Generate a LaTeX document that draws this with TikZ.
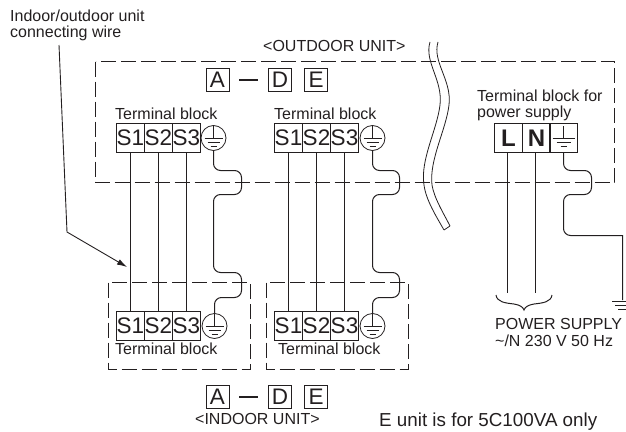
\documentclass[tikz,border=0pt]{standalone}
\usepackage{fontspec}
\setmainfont{Liberation Sans}
\usetikzlibrary{arrows.meta}
\definecolor{ink}{HTML}{231F20}
\tikzset{
  wire/.style={draw=ink,line width=1pt},
  thin wire/.style={draw=ink,line width=0.8pt},
  boxdash/.style={draw=ink,line width=1pt,dash pattern=on 15pt off 5pt},
  cell/.style={draw=ink,line width=0.8pt,minimum width=28pt,minimum height=29pt,inner sep=0pt,font=\fontsize{22.5}{22.5}\selectfont,text=ink},
  pcell/.style={cell,font=\fontsize{24}{24}\selectfont\bfseries},
  letterbox/.style={draw=ink,line width=0.8pt,minimum width=23pt,minimum height=23pt,inner sep=0pt,font=\fontsize{22.5}{22.5}\selectfont,text=ink},
  gcirc/.style={circle,draw=ink,line width=0.8pt,minimum size=25pt,inner sep=0pt},
  lbl/.style={anchor=west,inner sep=0pt,text=ink,font=\fontsize{16}{16}\selectfont},
  lead/.style={draw=ink,line width=0.9pt}
}
\newcommand{\earthsym}[1]{%
  \begin{scope}[shift={(#1.center)}]
    \draw[thin wire] (0,-12)--(0,0) (-9,0)--(9,0) (-6,4)--(6,4) (-3,8)--(3,8);
  \end{scope}}
\begin{document}
\begin{tikzpicture}[x=1pt,y=-1pt]
\useasboundingbox (0,0) rectangle (626,431);
% unit frames
\draw[boxdash] (95.5,61.5) rectangle (614.5,182.5);
\draw[boxdash] (108.5,282.5) rectangle (250.5,369.5);
\draw[boxdash] (266.5,282.5) rectangle (408.5,369.5);
% titles
\node[lbl] (title) at (10,16) {Indoor/outdoor unit};
\node[lbl] (title2) at (10,33) {connecting wire};
\node[lbl] (outdoor) at (263,46) {<OUTDOOR UNIT>};
\node[lbl] (indoor) at (195,419) {<INDOOR UNIT>};
% letters
\node[letterbox] (a1) at (217.5,80) {A};
\node[letterbox] (d1) at (280,80) {D};
\node[letterbox] (e1) at (316,80) {E};
\draw[wire,line width=1.3pt] (a1.east)++(10,0) -- ++(19,0);
\node[letterbox] (a2) at (217.5,397) {A};
\node[letterbox] (d2) at (280,397) {D};
\node[letterbox] (e2) at (316,397) {E};
\draw[wire,line width=1.3pt] (a2.east)++(10,0) -- ++(19,0);
% outdoor blocks
\node[lbl] (tb1) at (115,114) {Terminal block};
\node[cell] (oa1) at (130.5,138) {S1};
\node[cell] (oa2) at (158.5,138) {S2};
\node[cell] (oa3) at (186.5,138) {S3};
\node[gcirc] (oag) at (213.5,138) {};
\node[lbl] (tb2) at (274,114) {Terminal block};
\node[cell] (ob1) at (288.5,138) {S1};
\node[cell] (ob2) at (316.5,138) {S2};
\node[cell] (ob3) at (344.5,138) {S3};
\node[gcirc] (obg) at (372.5,138) {};
% indoor blocks
\node[cell] (ia1) at (130.5,326) {S1};
\node[cell] (ia2) at (158.5,326) {S2};
\node[cell] (ia3) at (186.5,326) {S3};
\node[gcirc] (iag) at (214.5,326) {};
\node[lbl] (tb3) at (115,349) {Terminal block};
\node[cell] (ib1) at (288.5,326) {S1};
\node[cell] (ib2) at (316.5,326) {S2};
\node[cell] (ib3) at (344.5,326) {S3};
\node[gcirc] (ibg) at (372.5,326) {};
\node[lbl] (tb4) at (278,349) {Terminal block};
\earthsym{oag}\earthsym{obg}\earthsym{iag}\earthsym{ibg}
% straight wires
\foreach \u/\v in {oa1/ia1,oa2/ia2,oa3/ia3,ob1/ib1,ob2/ib2,ob3/ib3}
  \draw[wire] (\u.south) -- (\v.north);
% earth wires with kinks
\draw[wire,rounded corners=7pt] (oag.south) -- (213.5,170.5) -- (241.5,170.5) -- (241.5,194.5) -- (213.5,194.5) -- (213.5,272.5) -- (241.5,272.5) -- (241.5,297.5) -- (214.5,297.5) -- (iag.north);
\draw[wire,rounded corners=7pt] (obg.south) -- (372.5,170.5) -- (399.5,170.5) -- (399.5,194.5) -- (372.5,194.5) -- (372.5,272.5) -- (399.5,272.5) -- (399.5,297.5) -- (372.5,297.5) -- (ibg.north);
% power block
\node[lbl] (pb1) at (477,96) {Terminal block for};
\node[lbl] (pb2) at (477,113) {power supply};
\node[pcell] (pl) at (508.5,138) {L};
\node[pcell] (pn) at (536.5,138) {N};
\node[cell] (pe) at (563.5,138) {};
\begin{scope}[shift={(pe.center)}]
  \draw[thin wire] (0,-12)--(0,0) (-11,0)--(11,0) (-7,4)--(7,4) (-3,8)--(3,8);
\end{scope}
\coordinate (lend) at (507.5,293);
\coordinate (nend) at (535.5,293);
\draw[wire] (pl.south -| lend) -- (lend);
\draw[wire] (pn.south -| nend) -- (nend);
\coordinate (gnd) at (622.5,300);
\draw[wire,rounded corners=7pt] (pe.south) -- (563.5,170.5) -- (591.5,170.5) -- (591.5,194.5) -- (563.5,194.5) -- (563.5,235.5) [sharp corners] -- (622.5,235.5) -- (gnd);
\draw[thin wire,line width=1pt] (612,301)--(626,301) (615,305)--(626,305) (618,309)--(626,309);
% brace
\draw[wire] (496,295) .. controls (497,302) and (505,303) .. (514,304) .. controls (520,305) and (523,307) .. (524,310)
  .. controls (525,307) and (528,305) .. (534,304) .. controls (543,303) and (551,302) .. (552,295);
\node[lbl] (ps1) at (495,324) {POWER SUPPLY};
\node[lbl] (ps2) at (495,341) {\textasciitilde/N 230 V 50 Hz};
% note
\node[lbl,font=\fontsize{18.8}{18.8}\selectfont] (note) at (379,422) {E unit is for 5C100VA only};
% break mark
\draw[thin wire] (430,42) .. controls (424,62) and (443,80) .. (440,105) .. controls (437,130) and (420,160) .. (424,185) .. controls (426,200) and (436,216) .. (444,230);
\draw[thin wire] (438,42) .. controls (432,62) and (452,80) .. (449,105) .. controls (446,130) and (429,160) .. (432,185) .. controls (434,198) and (444,214) .. (450,226);
\draw[thin wire] (444,230)--(450,226);
% leader
\coordinate (lead0) at (59,45);
\coordinate (lead1) at (67,232);
\coordinate (lead2) at (127,267);
\draw[lead,-{Latex[length=10pt,width=6pt]}] (lead0) -- (lead1) -- (lead2);
\end{tikzpicture}
\end{document}
